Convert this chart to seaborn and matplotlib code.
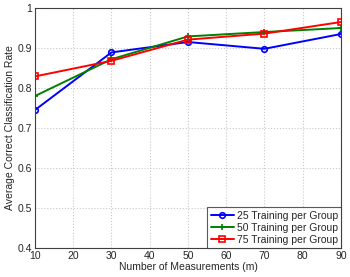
import numpy as np
import pandas as pd
import matplotlib
matplotlib.use("Agg")
import matplotlib.pyplot as plt
import seaborn as sns

measurements = [10, 30, 50, 70, 90]
rate_25 = [0.745, 0.889, 0.915, 0.898, 0.935]
rate_50 = [0.780, 0.872, 0.929, 0.940, 0.950]
rate_75 = [0.829, 0.868, 0.921, 0.936, 0.965]
labels = ["25 Training per Group", "50 Training per Group", "75 Training per Group"]
colors = ["#0000ff", "#008000", "#ff0000"]
markers = ["o", "+", "s"]

sns.set_style("white")
plt.rcParams["font.family"] = ["Liberation Sans", "DejaVu Sans"]

fig = plt.figure(figsize=(3.5, 2.77), dpi=100)
ax = fig.add_axes([0.1, 0.105, 0.874, 0.866])

# one call per series (filled and line-art markers can't be mixed in one call)
for r, lab, c, mk in zip([rate_25, rate_50, rate_75], labels, colors, markers):
    sns.lineplot(x=measurements, y=r, color=c, marker=mk, label=lab, ax=ax,
                 linewidth=1.4, markersize=4, markeredgewidth=1.2,
                 markerfacecolor="none", markeredgecolor=c)

ax.set_xlim(10, 90)
ax.set_ylim(0.4, 1.0)
ax.set_xticks(range(10, 91, 10))
ax.set_yticks(np.arange(0.4, 1.01, 0.1))
ax.set_yticklabels(["0.4", "0.5", "0.6", "0.7", "0.8", "0.9", "1"])
ax.grid(True, linestyle=":", color="#c8c8c8", linewidth=0.8)
ax.tick_params(labelsize=7.5, direction="in", length=2, pad=2)
ax.set_xlabel("Number of Measurements (m)", fontsize=7.5, labelpad=1)
ax.set_ylabel("Average Correct Classification Rate", fontsize=7.5, labelpad=2)
for s in ax.spines.values():
    s.set_color("#404040")
    s.set_linewidth(0.8)

leg = ax.legend(loc="lower right", fontsize=7.5, frameon=True, fancybox=False,
                borderpad=0.3, labelspacing=0.2, handlelength=2.2,
                handletextpad=0.3, borderaxespad=0.0)
leg.get_frame().set_edgecolor("#303030")
leg.get_frame().set_linewidth(0.8)

fig.savefig("out.png", dpi=100)
